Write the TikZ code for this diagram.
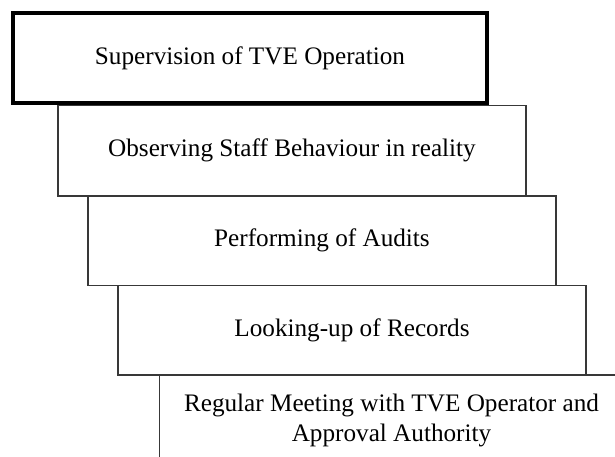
\documentclass[tikz,border=0pt]{standalone}
\usepackage{fontspec}
\setmainfont{Liberation Serif}
\begin{document}
\begin{tikzpicture}[x=1pt,y=-1pt,
  stage/.style={draw=black!78, line width=1.3pt, rectangle, anchor=north west,
    outer sep=0pt, inner sep=0pt, align=center,
    font=\fontsize{25.2}{30.5}\selectfont},
  headstage/.style={stage, draw=black, line width=4pt}]
\useasboundingbox (0,0) rectangle (615,457);
\clip (0,0) rectangle (615,457);
\node[stage, minimum width=464pt, minimum height=91pt] (meet) at (159.5,375)
  {Regular Meeting with TVE Operator and\\Approval Authority};
\node[stage, minimum width=468pt, minimum height=89.5pt] (records) at (118,285.5)
  {Looking-up of Records};
\node[stage, minimum width=468pt, minimum height=89.5pt] (audits) at (88,196)
  {Performing of Audits};
\node[stage, minimum width=468pt, minimum height=90.5pt] (observe) at (58,105.5)
  {Observing Staff Behaviour in reality};
\node[headstage, minimum width=474pt, minimum height=89.5pt] (supervise) at (13,13.5)
  {Supervision of TVE Operation};
\end{tikzpicture}
\end{document}
